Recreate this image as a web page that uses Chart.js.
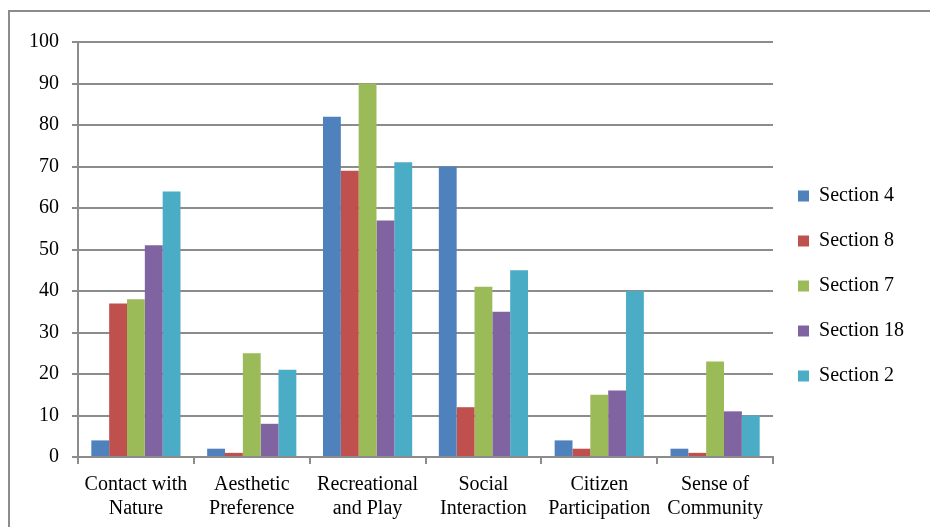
<!DOCTYPE html>
<html>
<head>
<meta charset="utf-8">
<script src="https://cdn.jsdelivr.net/npm/chart.js@4.4.1/dist/chart.umd.min.js"></script>
<style>
  body { margin: 0; background: #fff; overflow: hidden; }
  #marco {
    position: absolute; left: 8px; top: 10px; width: 1000px; height: 600px;
    border-left: 2px solid #8c8c8c; border-top: 2px solid #8c8c8c;
  }
  #grafica { position: absolute; left: 0; top: 0; }
</style>
</head>
<body>
<div id="marco"></div>
<canvas id="grafica" width="930" height="530"></canvas>
<script>
// Datos
const categorias = [
  ["Contact with", "Nature"],
  ["Aesthetic", "Preference"],
  ["Recreational", "and Play"],
  ["Social", "Interaction"],
  ["Citizen", "Participation"],
  ["Sense of", "Community"],
];
const seccion4 = [4, 2, 82, 70, 4, 2];
const seccion8 = [37, 1, 69, 12, 2, 1];
const seccion7 = [38, 25, 90, 41, 15, 23];
const seccion18 = [51, 8, 57, 35, 16, 11];
const seccion2 = [64, 21, 71, 45, 40, 10];
const ticksY = [0, 10, 20, 30, 40, 50, 60, 70, 80, 90, 100];

const gris = "#8c8c8c";
const fuente = { family: "'Liberation Serif', 'Times New Roman', serif", size: 20 };

const series = [
  { label: "Section 4", data: seccion4, color: "#4f81bd" },
  { label: "Section 8", data: seccion8, color: "#c0504d" },
  { label: "Section 7", data: seccion7, color: "#9bbb59" },
  { label: "Section 18", data: seccion18, color: "#8064a2" },
  { label: "Section 2", data: seccion2, color: "#4bacc6" },
];

new Chart(document.getElementById("grafica"), {
  type: "bar",
  data: {
    labels: categorias,
    datasets: series.map((s) => ({
      label: s.label,
      data: s.data,
      backgroundColor: s.color,
      borderWidth: 0,
      categoryPercentage: 0.77,
      barPercentage: 1,
    })),
  },
  options: {
    responsive: false,
    animation: false,
    layout: { padding: { left: 16, top: 42, right: 16, bottom: 0 } },
    plugins: {
      tooltip: { enabled: false },
      legend: {
        position: "right",
        labels: {
          boxWidth: 11,
          boxHeight: 11,
          padding: 25,
          color: "#000",
          font: fuente,
        },
      },
    },
    scales: {
      x: {
        grid: { offset: true, drawOnChartArea: false, color: gris, lineWidth: 2, tickLength: 7 },
        border: { color: gris, width: 2 },
        ticks: { color: "#000", font: fuente, maxRotation: 0, padding: 9 },
      },
      y: {
        min: 0,
        max: 100,
        afterBuildTicks: (eje) => { eje.ticks = ticksY.map((v) => ({ value: v })); },
        grid: { color: gris, lineWidth: 2, tickLength: 6 },
        border: { color: gris, width: 2 },
        ticks: { color: "#000", font: fuente, padding: 13 },
      },
    },
  },
});
</script>
</body>
</html>
